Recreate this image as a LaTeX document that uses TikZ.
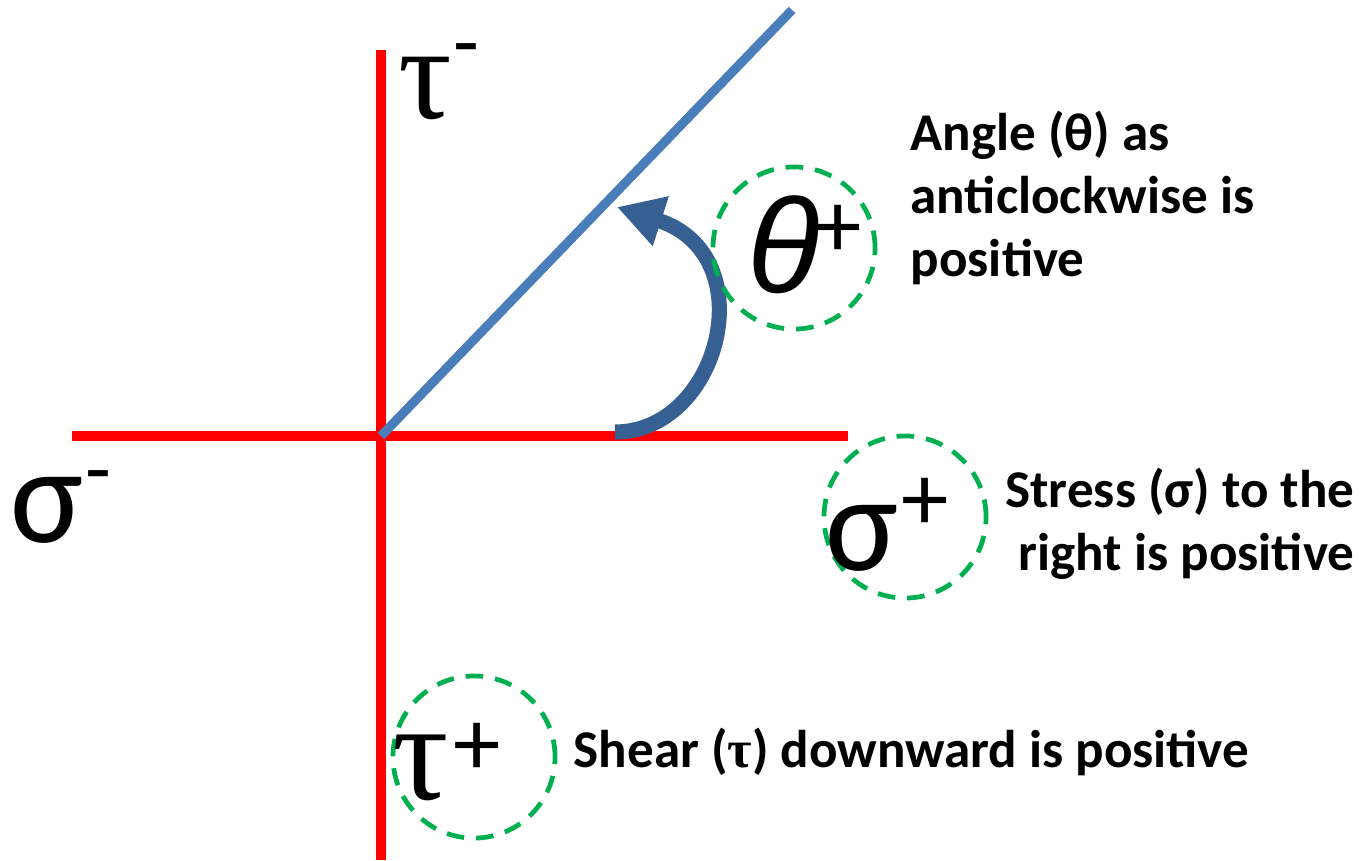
\documentclass[tikz,border=0pt]{standalone}
\usepackage{fontspec}
\setmainfont{Carlito}
\newfontfamily\symf{Liberation Serif}
\newfontfamily\thetaf{Liberation Sans}
\usetikzlibrary{arrows.meta}
\definecolor{axisred}{RGB}{255,0,0}
\definecolor{lineblue}{RGB}{74,126,187}
\definecolor{arcblue}{RGB}{55,96,146}
\definecolor{dashgreen}{RGB}{0,176,80}
\tikzset{
  axisline/.style={draw=axisred,line width=2.6pt},
  ray/.style={draw=lineblue,line width=2.6pt},
  turn/.style={draw=arcblue,line width=4.3pt,-{Triangle[length=4.6mm,width=4.9mm]}},
  ring/.style={draw=dashgreen,line width=1.35pt,dash pattern=on 5pt off 3.4pt,circle,minimum size=1.62cm,inner sep=0pt},
  big/.style={inner sep=0pt,font=\fontsize{39}{39}\selectfont},
  sign/.style={inner sep=0pt,font=\fontsize{27}{27}\selectfont},
  minussign/.style={inner sep=0pt,font=\fontsize{24}{24}\selectfont},
  lbl/.style={inner sep=0pt,font=\bfseries\fontsize{15.1}{18}\selectfont}
}
\begin{document}
\begin{tikzpicture}[x=0.01cm,y=-0.01cm]
\useasboundingbox (0,0) rectangle (1368,860);
% axes
\coordinate (O) at (381,436);
\coordinate (L) at (72,436);
\coordinate (R) at (848,436);
\coordinate (T) at (381,50);
\coordinate (B) at (381,860);
\coordinate (P) at (792,10);
\draw[axisline] (L) -- (R);
\draw[axisline] (T) -- (B);
\draw[ray] (O) -- (P);
% angle arrow
\coordinate (a0) at (615,432);
\coordinate (a1) at (617,207);
\draw[turn] (a0) .. controls (720,432) and (765,255) .. (a1);
% dashed rings
\node[ring] (rt) at (794,248) {};
\node[ring] (rs) at (905,517) {};
\node[ring] (ru) at (474,757) {};
% symbols
\node[big] (sm) at (47,510) {σ};
\node[minussign] (smd) at (98,484) {-};
\node[big,font=\symf\fontsize{38}{38}\selectfont] (tm) at (425,88) {τ};
\node[minussign] (tmd) at (466,57) {-};
\node[big] (sp) at (862,538) {σ};
\node[sign] (spp) at (925,504) {+};
\node[big,font=\thetaf\itshape\fontsize{38}{38}\selectfont] (th) at (784,245) {θ};
\node[sign] (thp) at (838,231) {+};
\node[big,font=\symf\fontsize{40}{40}\selectfont] (tp) at (421,768) {τ};
\node[sign] (tpp) at (477,749) {+};
% labels
\node[lbl,align=left,anchor=north west] (la) at (910,110) {Angle (θ) as\\anticlockwise is\\positive};
\node[lbl,align=right,anchor=north east] (ls) at (1355,467) {Stress (σ) to the\\right is positive};
\node[lbl,anchor=base west] (lt) at (573,767) {Shear ({\symf τ}) downward is positive};
\end{tikzpicture}
\end{document}
